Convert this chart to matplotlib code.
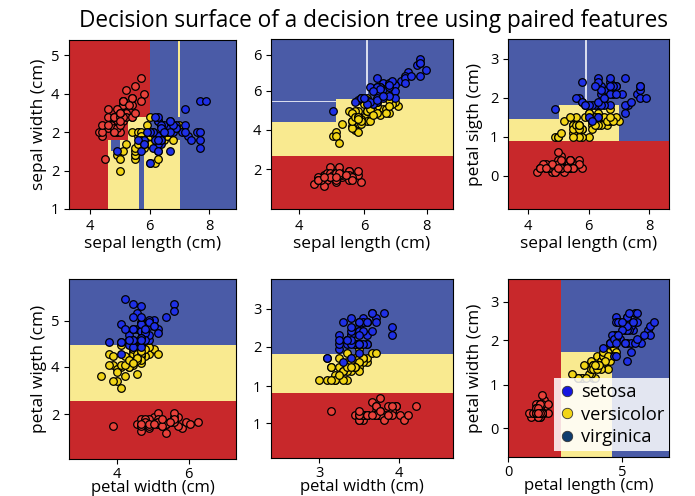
import matplotlib
matplotlib.use('Agg')
import matplotlib.pyplot as plt
from matplotlib.colors import ListedColormap
from matplotlib.lines import Line2D

plt.rcParams['font.family'] = ['Open Sans', 'DejaVu Sans']

# iris measurements (setosa, versicolor, virginica; 50 each)
sepal_length = [
    5.1, 4.9, 4.7, 4.6, 5.0, 5.4, 4.6, 5.0, 4.4, 4.9, 5.4, 4.8, 4.8, 4.3, 5.8, 5.7, 5.4, 5.1, 5.7, 5.1,
    5.4, 5.1, 4.6, 5.1, 4.8, 5.0, 5.0, 5.2, 5.2, 4.7, 4.8, 5.4, 5.2, 5.5, 4.9, 5.0, 5.5, 4.9, 4.4, 5.1,
    5.0, 4.5, 4.4, 5.0, 5.1, 4.8, 5.1, 4.6, 5.3, 5.0,
    7.0, 6.4, 6.9, 5.5, 6.5, 5.7, 6.3, 4.9, 6.6, 5.2, 5.0, 5.9, 6.0, 6.1, 5.6, 6.7, 5.6, 5.8, 6.2, 5.6,
    5.9, 6.1, 6.3, 6.1, 6.4, 6.6, 6.8, 6.7, 6.0, 5.7, 5.5, 5.5, 5.8, 6.0, 5.4, 6.0, 6.7, 6.3, 5.6, 5.5,
    5.5, 6.1, 5.8, 5.0, 5.6, 5.7, 5.7, 6.2, 5.1, 5.7,
    6.3, 5.8, 7.1, 6.3, 6.5, 7.6, 4.9, 7.3, 6.7, 7.2, 6.5, 6.4, 6.8, 5.7, 5.8, 6.4, 6.5, 7.7, 7.7, 6.0,
    6.9, 5.6, 7.7, 6.3, 6.7, 7.2, 6.2, 6.1, 6.4, 7.2, 7.4, 7.9, 6.4, 6.3, 6.1, 7.7, 6.3, 6.4, 6.0, 6.9,
    6.7, 6.9, 5.8, 6.8, 6.7, 6.7, 6.3, 6.5, 6.2, 5.9]
sepal_width = [
    3.5, 3.0, 3.2, 3.1, 3.6, 3.9, 3.4, 3.4, 2.9, 3.1, 3.7, 3.4, 3.0, 3.0, 4.0, 4.4, 3.9, 3.5, 3.8, 3.8,
    3.4, 3.7, 3.6, 3.3, 3.4, 3.0, 3.4, 3.5, 3.4, 3.2, 3.1, 3.4, 4.1, 4.2, 3.1, 3.2, 3.5, 3.6, 3.0, 3.4,
    3.5, 2.3, 3.2, 3.5, 3.8, 3.0, 3.8, 3.2, 3.7, 3.3,
    3.2, 3.2, 3.1, 2.3, 2.8, 2.8, 3.3, 2.4, 2.9, 2.7, 2.0, 3.0, 2.2, 2.9, 2.9, 3.1, 3.0, 2.7, 2.2, 2.5,
    3.2, 2.8, 2.5, 2.8, 2.9, 3.0, 2.8, 3.0, 2.9, 2.6, 2.4, 2.4, 2.7, 2.7, 3.0, 3.4, 3.1, 2.3, 3.0, 2.5,
    2.6, 3.0, 2.6, 2.3, 2.7, 3.0, 2.9, 2.9, 2.5, 2.8,
    3.3, 2.7, 3.0, 2.9, 3.0, 3.0, 2.5, 2.9, 2.5, 3.6, 3.2, 2.7, 3.0, 2.5, 2.8, 3.2, 3.0, 3.8, 2.6, 2.2,
    3.2, 2.8, 2.8, 2.7, 3.3, 3.2, 2.8, 3.0, 2.8, 3.0, 2.8, 3.8, 2.8, 2.8, 2.6, 3.0, 3.4, 3.1, 3.0, 3.1,
    3.1, 3.1, 2.7, 3.2, 3.3, 3.0, 2.5, 3.0, 3.4, 3.0]
petal_length = [
    1.4, 1.4, 1.3, 1.5, 1.4, 1.7, 1.4, 1.5, 1.4, 1.5, 1.5, 1.6, 1.4, 1.1, 1.2, 1.5, 1.3, 1.4, 1.7, 1.5,
    1.7, 1.5, 1.0, 1.7, 1.9, 1.6, 1.6, 1.5, 1.4, 1.6, 1.6, 1.5, 1.5, 1.4, 1.5, 1.2, 1.3, 1.4, 1.3, 1.5,
    1.3, 1.3, 1.3, 1.6, 1.9, 1.4, 1.6, 1.4, 1.5, 1.4,
    4.7, 4.5, 4.9, 4.0, 4.6, 4.5, 4.7, 3.3, 4.6, 3.9, 3.5, 4.2, 4.0, 4.7, 3.6, 4.4, 4.5, 4.1, 4.5, 3.9,
    4.8, 4.0, 4.9, 4.7, 4.3, 4.4, 4.8, 5.0, 4.5, 3.5, 3.8, 3.7, 3.9, 5.1, 4.5, 4.5, 4.7, 4.4, 4.1, 4.0,
    4.4, 4.6, 4.0, 3.3, 4.2, 4.2, 4.2, 4.3, 3.0, 4.1,
    6.0, 5.1, 5.9, 5.6, 5.8, 6.6, 4.5, 6.3, 5.8, 6.1, 5.1, 5.3, 5.5, 5.0, 5.1, 5.3, 5.5, 6.7, 6.9, 5.0,
    5.7, 4.9, 6.7, 4.9, 5.7, 6.0, 4.8, 4.9, 5.6, 5.8, 6.1, 6.4, 5.6, 5.1, 5.6, 6.1, 5.6, 5.5, 4.8, 5.4,
    5.6, 5.1, 5.1, 5.9, 5.7, 5.2, 5.0, 5.2, 5.4, 5.1]
petal_width = [
    0.2, 0.2, 0.2, 0.2, 0.2, 0.4, 0.3, 0.2, 0.2, 0.1, 0.2, 0.2, 0.1, 0.1, 0.2, 0.4, 0.4, 0.3, 0.3, 0.3,
    0.2, 0.4, 0.2, 0.5, 0.2, 0.2, 0.4, 0.2, 0.2, 0.2, 0.2, 0.4, 0.1, 0.2, 0.2, 0.2, 0.2, 0.1, 0.2, 0.2,
    0.3, 0.3, 0.2, 0.6, 0.4, 0.3, 0.2, 0.2, 0.2, 0.2,
    1.4, 1.5, 1.5, 1.3, 1.5, 1.3, 1.6, 1.0, 1.3, 1.4, 1.0, 1.5, 1.0, 1.4, 1.3, 1.4, 1.5, 1.0, 1.5, 1.1,
    1.8, 1.3, 1.5, 1.2, 1.3, 1.4, 1.4, 1.7, 1.5, 1.0, 1.1, 1.0, 1.2, 1.6, 1.5, 1.6, 1.5, 1.3, 1.3, 1.3,
    1.2, 1.4, 1.2, 1.0, 1.3, 1.2, 1.3, 1.3, 1.1, 1.3,
    2.5, 1.9, 2.1, 1.8, 2.2, 2.1, 1.7, 1.8, 1.8, 2.5, 2.0, 1.9, 2.1, 2.0, 2.4, 2.3, 1.8, 2.2, 2.3, 1.5,
    2.3, 2.0, 2.0, 1.8, 2.1, 1.8, 1.8, 1.8, 2.1, 1.6, 1.9, 2.0, 2.2, 1.5, 1.4, 2.3, 2.4, 1.8, 1.8, 2.1,
    2.4, 2.3, 1.9, 2.3, 2.5, 2.3, 1.9, 2.0, 2.3, 1.8]
class_sizes = [50, 50, 50]
class_names = ['setosa', 'versicolor', 'virginica']

# decision surfaces: cell edges + class per cell
# (0 red, 1 yellow, 2 blue, 3 light seam)
surf1_x = [3.3, 4.6, 4.7, 5.0, 5.27, 5.66, 5.83, 6.0, 6.95, 7.02, 8.9]
surf1_y = [1.0, 2.5, 2.8, 3.4, 5.4]
surf1_c = [[0, 1, 1, 1, 1, 2, 1, 1, 1, 2],
           [0, 1, 2, 1, 1, 2, 1, 1, 1, 2],
           [0, 0, 0, 0, 1, 1, 1, 2, 2, 2],
           [0, 0, 0, 0, 0, 0, 0, 2, 1, 2]]

surf2_x = [2.9, 5.0, 5.96, 6.02, 8.76]
surf2_y = [-0.07, 2.4, 3.95, 4.9, 4.96, 5.04, 7.83]
surf2_c = [[0, 0, 0, 0],
           [1, 1, 1, 1],
           [2, 1, 1, 1],
           [3, 1, 1, 1],
           [2, 1, 1, 1],
           [2, 2, 3, 2]]

surf3_x = [3.34, 5.04, 5.9, 5.96, 7.0, 8.66]
surf3_y = [-0.85, 0.88, 1.45, 1.8, 3.5]
surf3_c = [[0, 0, 0, 0, 0],
           [1, 1, 1, 1, 2],
           [2, 1, 1, 1, 2],
           [2, 2, 3, 2, 2]]

surf4_x = [1.19, 5.36]
surf4_y = [-0.15, 2.41, 4.88, 7.79]
surf4_c = [[0], [1], [2]]

surf5_x = [0.83, 5.3]
surf5_y = [-0.76, 0.7, 1.59, 3.27]
surf5_c = [[0], [1], [2]]

surf6_x = [0.0, 2.49, 4.9, 7.6]
surf6_y = [-0.83, 1.59, 3.29]
surf6_c = [[0, 1, 2],
           [0, 2, 2]]

# (x feature, y feature, surface, xlabel, ylabel, xticks, xticklabels, yticks, yticklabels)
features = {'sl': sepal_length, 'sw': sepal_width, 'pl': petal_length, 'pw': petal_width}
panels = [
    ('sl', 'sw', (surf1_x, surf1_y, surf1_c), 'sepal length (cm)', 'sepal width (cm)',
     [4, 6, 8], ['4', '6', '8'], [1, 2, 3, 4, 5], ['1', '2', '2', '4', '5']),
    ('sl', 'pl', (surf2_x, surf2_y, surf2_c), 'sepal length (cm)', '',
     [3.8, 5.9, 7.92], ['4', '6', '8'], [1.78, 3.61, 5.43, 7.1], ['2', '4', '6', '6']),
    ('sl', 'pw', (surf3_x, surf3_y, surf3_c), 'sepal length (cm)', 'petal sigth (cm)',
     [4, 6, 8], ['4', '6', '8'], [0, 1, 2, 3], ['0', '1', '2', '3']),
    ('sw', 'pl', (surf4_x, surf4_y, surf4_c), 'petal width (cm)', 'petal wigth (cm)',
     [2.38, 4.18], ['4', '6'], [1.82, 3.93, 5.94], ['2', '4', '5']),
    ('sw', 'pw', (surf5_x, surf5_y, surf5_c), 'petal width (cm)', '',
     [2.01, 3.97], ['3', '4'], [0.02, 0.85, 1.74, 2.6], ['1', '1', '2', '3']),
    ('pl', 'pw', (surf6_x, surf6_y, surf6_c), 'petal length (cm)', 'petal width (cm)',
     [0.0, 5.39], ['0', '5'], [-0.16, 0.84, 1.87, 2.76], ['0', '1', '2', '3']),
]

# axes boxes in pixels: left, top, right, bottom
W, H = 695, 496
boxes = [(69, 40, 236, 209), (271, 39, 453, 209), (508, 39, 669, 209),
         (69, 279, 236, 459), (271, 279, 453, 458), (508, 279, 669, 457)]

surf_cmap = ListedColormap(['#c8282b', '#f9ea90', '#4a5ba7', '#d8dcee'])
point_colors = ['#e8413a', '#f2d516', '#1f30e6']

fig = plt.figure(figsize=(W / 100, H / 100), dpi=100)
fig.text(0.537, 0.958, 'Decision surface of a decision tree using paired features',
         ha='center', va='center', fontsize=16.3)

for i, (fx, fy, surf, xl, yl, xt, xtl, yt, ytl) in enumerate(panels):
    l, t, r, b = boxes[i]
    ax = fig.add_axes([l / W, 1 - b / H, (r - l) / W, (b - t) / H])
    sx, sy, sc = surf
    ax.pcolormesh(sx, sy, sc, cmap=surf_cmap, vmin=-0.5, vmax=3.5, shading='flat')
    xs, ys = features[fx], features[fy]
    start = 0
    for k, n in enumerate(class_sizes):
        ax.scatter(xs[start:start + n], ys[start:start + n], s=30, c=point_colors[k],
                   edgecolors='black', linewidths=0.9, zorder=3)
        start += n
    ax.set_xlim(sx[0], sx[-1])
    ax.set_ylim(sy[0], sy[-1])
    ax.set_xticks(xt)
    ax.set_xticklabels(xtl)
    ax.set_yticks(yt)
    ax.set_yticklabels(ytl)
    ax.tick_params(labelsize=10.5, length=3.5, width=0.8)
    if i < 3:
        ax.set_xlabel(xl, fontsize=12.4, labelpad=2)
    else:
        ax.tick_params(axis='x', pad=2)
        ax.set_xlabel(xl, fontsize=12, labelpad=-1)
    if yl:
        ax.set_ylabel(yl, fontsize=12.4, labelpad=3 if i % 3 == 0 else 5)
    for sp in ax.spines.values():
        sp.set_linewidth(0.8)
    if i == 5:
        handles = [Line2D([], [], marker='o', linestyle='none', markersize=7.5,
                          markerfacecolor=c, markeredgecolor='#333333', markeredgewidth=0.6)
                   for c in ['#1515e0', '#f2d516', '#0f3c6e']]
        leg = ax.legend(handles, class_names, loc='lower right', bbox_to_anchor=(1.0, 0.035),
                        fontsize=13.2, frameon=True, fancybox=False, framealpha=0.85,
                        edgecolor='none', borderpad=0.25, handletextpad=0.3,
                        handlelength=0.9, labelspacing=0.25, borderaxespad=0.0)
        leg.get_frame().set_facecolor('white')

fig.savefig('out.png', dpi=100)
